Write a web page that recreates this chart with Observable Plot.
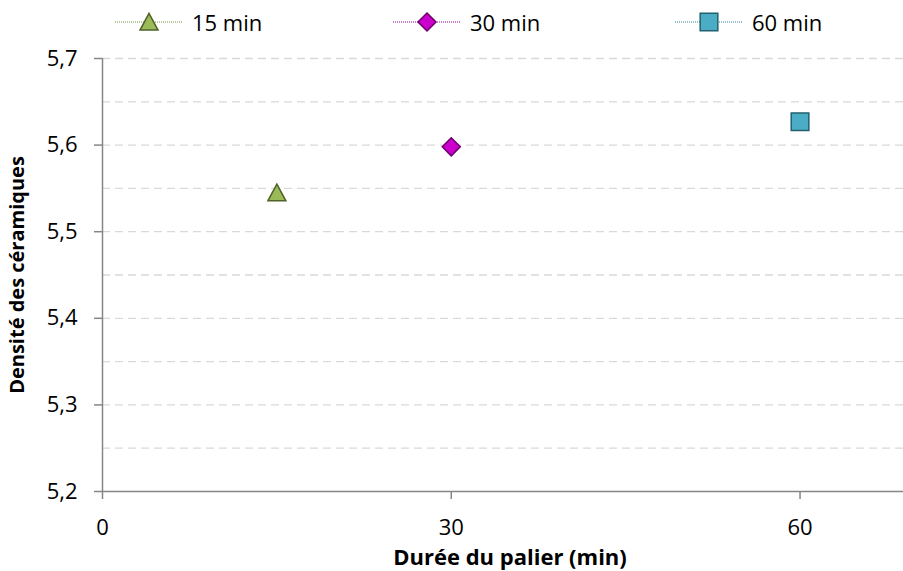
<!DOCTYPE html>
<html><head><meta charset="utf-8">
<script src="https://cdn.jsdelivr.net/npm/d3@7"></script>
<script src="https://cdn.jsdelivr.net/npm/@observablehq/plot@0.6"></script>
<style>
body{margin:0;background:#fff;font-family:"Open Sans",sans-serif;}
#legend{position:relative;height:44px;width:903px;}
.item{position:absolute;top:0;height:44px;display:flex;align-items:center;font-size:22px;color:#000;white-space:nowrap;}
.item svg{margin-right:9px;}
</style></head><body>
<div id="legend"></div><div id="chart"></div>
<script>
// ---- data ----
const series = ["15 min", "30 min", "60 min"];
const durations = [15, 30, 60];
const densities = [5.545, 5.598, 5.627];
const yTicks = [5.2, 5.3, 5.4, 5.5, 5.6, 5.7];
const yGrid = [5.25, 5.3, 5.35, 5.4, 5.45, 5.5, 5.55, 5.6, 5.65, 5.7];
const xTicks = [0, 30, 60];
const xTitle = "Durée du palier (min)";
const yTitle = "Densité des céramiques";

// ---- styles ----
const fills = ["#9BBB59", "#CC00CC", "#4BACC6"];
const strokes = ["#4F6228", "#6E006E", "#23606F"];
const lineColors = ["#77933C", "#A000A0", "#31859C"];
const legendLeft = [115, 393, 675];

const symbols = [
  {draw(c, size){const r=Math.sqrt(size/Math.PI); c.moveTo(0,-0.95*r); c.lineTo(r,0.9*r); c.lineTo(-r,0.9*r); c.closePath();}},
  {draw(c, size){const r=Math.sqrt(size/Math.PI); c.moveTo(0,-r); c.lineTo(r,0); c.lineTo(0,r); c.lineTo(-r,0); c.closePath();}},
  {draw(c, size){const r=Math.sqrt(size/Math.PI)*0.98; c.moveTo(-r,-r); c.lineTo(r,-r); c.lineTo(r,r); c.lineTo(-r,r); c.closePath();}}
];

const rows = series.map((s, i) => ({series: s, x: durations[i], y: densities[i], i}));
const fmt = d => d.toFixed(1).replace(".", ",");

// ---- legend ----
const legend = document.getElementById("legend");
series.forEach((s, i) => {
  const item = document.createElement("div");
  item.className = "item";
  item.style.left = legendLeft[i] + "px";
  const svg = d3.create("svg").attr("width", 68).attr("height", 24);
  svg.append("line").attr("x1", 0).attr("x2", 68).attr("y1", 12).attr("y2", 12)
    .attr("stroke", lineColors[i]).attr("stroke-width", 1.2).attr("stroke-dasharray", "1,1");
  svg.append("path").attr("transform", "translate(34,12)")
    .attr("d", d3.symbol(symbols[i], Math.PI * 81)())
    .attr("fill", fills[i]).attr("stroke", strokes[i]).attr("stroke-width", 1.5);
  item.appendChild(svg.node());
  const t = document.createElement("span");
  t.textContent = s;
  item.appendChild(t);
  legend.appendChild(item);
});

// ---- chart ----
const marks = [
  Plot.gridY(yGrid, {stroke: "#D9D9D9", strokeOpacity: 1, strokeWidth: 1.3, strokeDasharray: "8,5"}),
  Plot.ruleX([0], {stroke: "#868686", strokeWidth: 1.5}),
  Plot.ruleY([5.2], {stroke: "#868686", strokeWidth: 1.5}),
  Plot.axisY(yTicks, {tickSize: 8, tickPadding: 17, tickFormat: fmt, stroke: "#868686", fill: "#000", strokeWidth: 1.5, label: null, fontSize: 22}),
  Plot.axisX(xTicks, {tickSize: 8, tickPadding: 20, stroke: "#868686", fill: "#000", strokeWidth: 1.5, label: null, fontSize: 22}),
  Plot.text([xTitle], {frameAnchor: "bottom", dy: 66, dx: 7, lineAnchor: "middle", textAnchor: "middle", fontWeight: "bold", fontSize: 22}),
  Plot.text([yTitle], {frameAnchor: "left", dx: -85, rotate: -90, lineAnchor: "middle", textAnchor: "middle", fontWeight: "bold", fontSize: 20})
];
rows.forEach((d, i) => {
  marks.push(Plot.dot([d], {x: "x", y: "y", r: 9, symbol: symbols[i], fill: fills[i], stroke: strokes[i], strokeWidth: 1.5}));
});

const chart = Plot.plot({
  width: 903,
  height: 527,
  marginTop: 14,
  marginBottom: 80,
  marginLeft: 102,
  marginRight: 0,
  style: {fontFamily: "'Open Sans', sans-serif", fontSize: "22px", background: "#fff", color: "#000", overflow: "visible"},
  x: {domain: [0, 68.9], axis: null},
  y: {domain: [5.2, 5.7], axis: null},
  marks
});
document.getElementById("chart").appendChild(chart);
</script>
</body></html>
